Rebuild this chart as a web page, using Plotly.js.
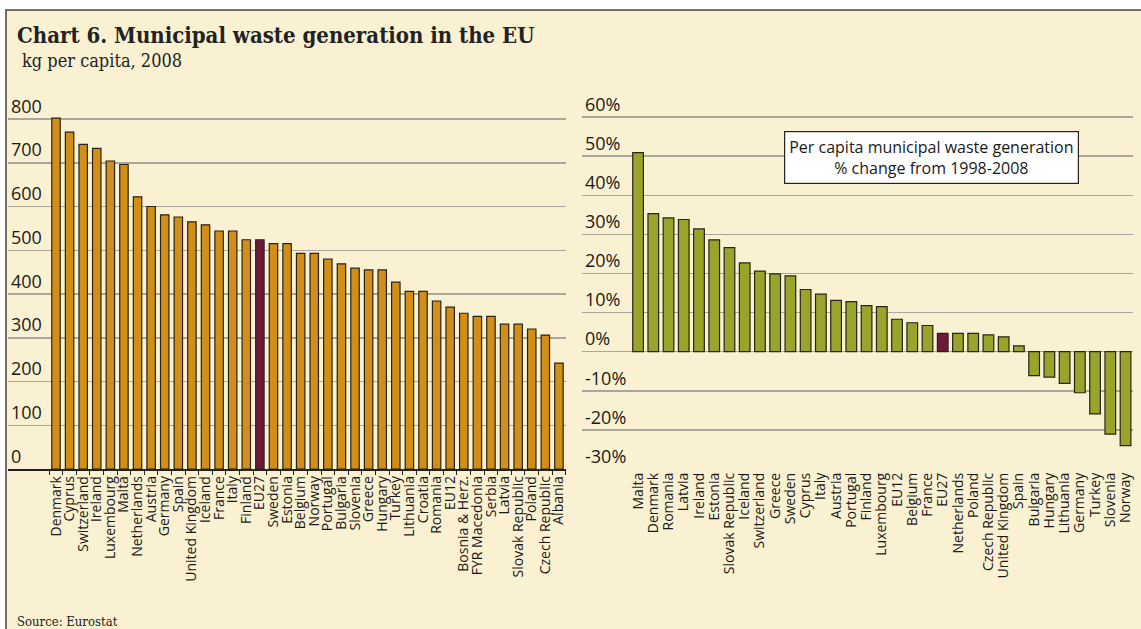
<!DOCTYPE html>
<html><head><meta charset="utf-8">
<script src="https://cdn.plot.ly/plotly-3.0.1.min.js"></script>
<style>html,body{margin:0;padding:0;background:#fff}#chart{width:1141px;height:629px}</style>
</head><body><div id="chart"></div>
<script>
// Left panel: kg per capita, 2008
const wasteCountries = ["Denmark","Cyprus","Switzerland","Ireland","Luxembourg","Malta","Netherlands","Austria","Germany","Spain","United Kingdom","Iceland","France","Italy","Finland","EU27","Sweden","Estonia","Belgium","Norway","Portugal","Bulgaria","Slovenia","Greece","Hungary","Turkey","Lithuania","Croatia","Romania","EU12","Bosnia & Herz.","FYR Macedonia","Serbia","Latvia","Slovak Republic","Poland","Czech Republic","Albania"];
const wasteKg = [802,770,742,733,704,696,622,600,581,576,565,558,544,544,524,524,515,515,493,493,480,469,459,455,455,427,406,406,384,370,356,349,349,331,331,320,306,242];

// Right panel: % change 1998-2008
const changeCountries = ["Malta","Denmark","Romania","Latvia","Ireland","Estonia","Slovak Republic","Iceland","Switzerland","Greece","Sweden","Cyprus","Italy","Austria","Portugal","Finland","Luxembourg","EU12","Belgium","France","EU27","Netherlands","Poland","Czech Republic","United Kingdom","Spain","Bulgaria","Hungary","Lithuania","Germany","Turkey","Slovenia","Norway"];
const changePct = [50.9,35.3,34.2,33.8,31.4,28.6,26.6,22.7,20.6,19.9,19.4,15.9,14.7,13.1,12.8,11.8,11.5,8.3,7.4,6.7,4.7,4.7,4.7,4.3,3.8,1.5,-6.1,-6.5,-8.1,-10.5,-15.9,-21.1,-24.0];

const leftTicks = [0,100,200,300,400,500,600,700,800];
const rightTicks = [-30,-20,-10,0,10,20,30,40,50,60];
const rightTickText = rightTicks.map(v => v + "%");
const highlightName = "EU27";

const ORANGE = "#D28F17", OLIVE = "#9AA42A", MAROON = "#6C1A3B";
const CREAM = "#FAF1D2", GRID = "#aaa69b";
const W = 1141, H = 629;
const px = v => v / W, py = v => (H - v) / H;

const sans = "Open Sans, sans-serif";
const tickFont = {family: sans, size: 14, color: "#1a1a1a"};
const yFont = {family: sans, size: 18, color: "#1a1a1a"};

const traces = [
  {type: "bar", x: wasteCountries, y: wasteKg, xaxis: "x", yaxis: "y", width: 0.62,
   marker: {color: wasteCountries.map(c => c === highlightName ? MAROON : ORANGE), line: {color: "#2a2317", width: 1.2}},
   hoverinfo: "x+y"},
  {type: "bar", x: changeCountries, y: changePct, xaxis: "x2", yaxis: "y2", width: 0.7,
   marker: {color: changeCountries.map(c => c === highlightName ? MAROON : OLIVE), line: {color: "#2a2317", width: 1.2}},
   hoverinfo: "x+y"}
];

const yDom = [py(469), py(85)];
const layout = {
  width: W, height: H, margin: {l: 0, r: 0, t: 0, b: 0},
  paper_bgcolor: "#ffffff", plot_bgcolor: "rgba(0,0,0,0)",
  showlegend: false,
  xaxis: {domain: [px(8), px(566)], type: "category", range: [-3.53, 37.52],
    tickmode: "array", tickvals: wasteCountries, ticktext: wasteCountries,
    tickangle: -90, tickfont: tickFont, showgrid: false, showline: true, linecolor: "#222", linewidth: 1.5,
    ticks: "outside", tickson: "boundaries", ticklen: 4, tickcolor: "#222", tickwidth: 1, fixedrange: true},
  yaxis: {domain: yDom, range: [0, 877.7], tickmode: "array", tickvals: leftTicks,
    ticklabelposition: "inside top", tickfont: yFont, showgrid: true, gridcolor: GRID, gridwidth: 1.5,
    zeroline: false, showline: false, ticks: "", fixedrange: true},
  xaxis2: {domain: [px(582), px(1133)], type: "category", range: [-3.68, 32.49],
    tickmode: "array", tickvals: changeCountries, ticktext: changeCountries, anchor: "y2",
    tickangle: -90, tickfont: tickFont, showgrid: false, showline: false, ticks: "", fixedrange: true},
  yaxis2: {domain: yDom, range: [-30, 68.2], anchor: "x2", tickmode: "array", tickvals: rightTicks, ticktext: rightTickText,
    ticklabelposition: "inside top", tickfont: yFont, showgrid: true, gridcolor: GRID, gridwidth: 1.5,
    zeroline: true, zerolinecolor: GRID, zerolinewidth: 1.5, showline: false, ticks: "", fixedrange: true},
  shapes: [
    {type: "rect", xref: "paper", yref: "paper", x0: px(6), x1: 1.02, y0: -0.02, y1: py(10),
     fillcolor: CREAM, line: {color: "#444", width: 1.5}, layer: "below"}
  ],
  annotations: [
    {xref: "paper", yref: "paper", x: px(15), y: py(20), xanchor: "left", yanchor: "top", showarrow: false,
     text: "<b>Chart 6. Municipal waste generation in the EU</b>",
     font: {family: "DejaVu Serif Condensed, DejaVu Serif, serif", size: 22, color: "#222"}},
    {xref: "paper", yref: "paper", x: px(20), y: py(48), xanchor: "left", yanchor: "top", showarrow: false,
     text: "kg per capita, 2008",
     font: {family: "DejaVu Serif Condensed, DejaVu Serif, serif", size: 18, color: "#222"}},
    {xref: "paper", yref: "paper", x: px(931), y: py(158), xanchor: "center", yanchor: "middle", showarrow: false,
     text: "Per capita municipal waste generation<br>% change from 1998-2008", align: "center",
     bgcolor: "#ffffff", bordercolor: "#222", borderwidth: 1.2, borderpad: 4,
     font: {family: sans, size: 16, color: "#1a1a1a"}},
    {xref: "paper", yref: "paper", x: px(15), y: py(621), xanchor: "left", yanchor: "middle", showarrow: false,
     text: "Source: Eurostat",
     font: {family: "DejaVu Serif Condensed, DejaVu Serif, serif", size: 13, color: "#222"}}
  ]
};

Plotly.newPlot("chart", traces, layout, {displayModeBar: false, staticPlot: true});
</script>
</body></html>
